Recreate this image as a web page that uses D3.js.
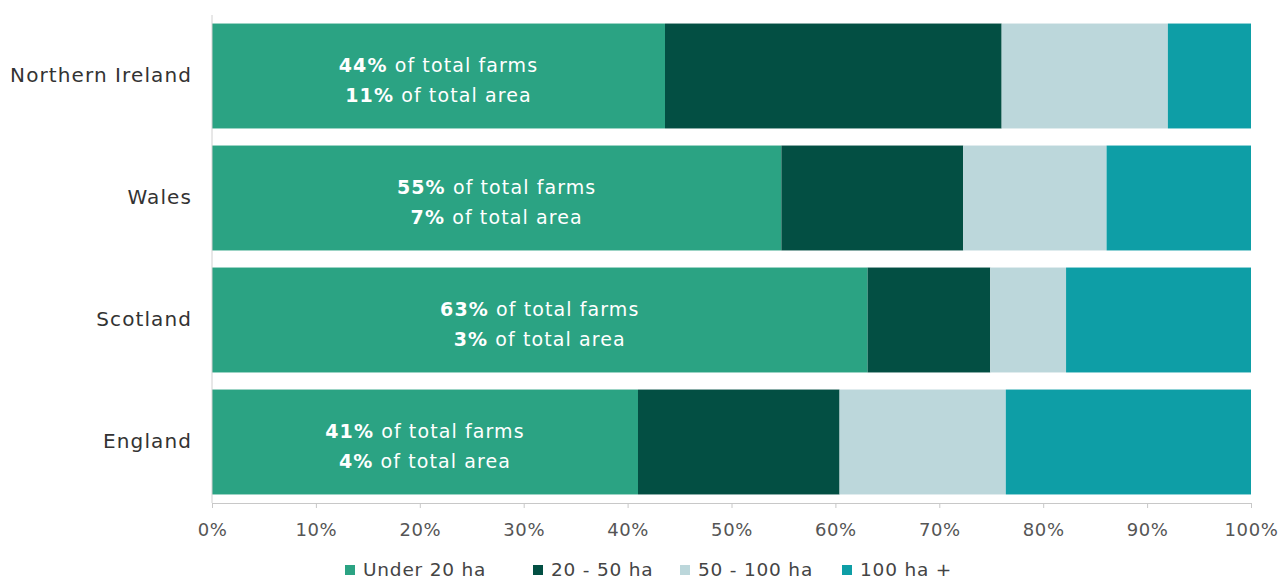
<!DOCTYPE html>
<html>
<head>
<meta charset="utf-8">
<script src="https://cdn.jsdelivr.net/npm/d3@7"></script>
<style>
  html, body { margin: 0; padding: 0; background: #ffffff; }
  svg { display: block; font-family: "DejaVu Sans", "Open Sans", sans-serif; }
</style>
</head>
<body>
<svg id="chart" width="1282" height="581"></svg>
<script>
// Share of holdings by farm size band, per nation (% of farms)
const categories = ["Northern Ireland", "Wales", "Scotland", "England"];
const seriesNames = ["Under 20 ha", "20 - 50 ha", "50 - 100 ha", "100 ha +"];
const under20 = [43.6, 54.8, 63.1, 41.0];
const from20to50 = [32.4, 17.5, 11.8, 19.4];
const from50to100 = [16.0, 13.8, 7.3, 16.0];
const over100 = [8.0, 13.9, 17.8, 23.6];
// Share of total farmed area held by the under-20 ha band
const under20AreaShare = [11, 7, 3, 4];
const tickValues = [0, 10, 20, 30, 40, 50, 60, 70, 80, 90, 100];

const colors = ["#2ba383", "#034f43", "#bcd7db", "#0e9ea6"];

const svg = d3.select("#chart");
const plotLeft = 212, plotRight = 1251, plotTop = 15, plotBottom = 503;

const x = d3.scaleLinear().domain([0, 100]).range([plotLeft, plotRight]);
const y = d3.scaleBand().domain(categories).range([plotTop, plotBottom])
  .paddingInner(0.14).paddingOuter(0.07);
const color = d3.scaleOrdinal().domain(seriesNames).range(colors);

const rows = categories.map((c, i) => ({
  category: c,
  "Under 20 ha": under20[i],
  "20 - 50 ha": from20to50[i],
  "50 - 100 ha": from50to100[i],
  "100 ha +": over100[i]
}));
const stacked = d3.stack().keys(seriesNames)(rows);

// Stacked bars
svg.append("g").selectAll("g")
  .data(stacked)
  .join("g")
  .attr("fill", d => color(d.key))
  .selectAll("rect")
  .data(d => d)
  .join("rect")
  .attr("x", d => x(d[0]))
  .attr("width", d => x(d[1]) - x(d[0]))
  .attr("y", d => y(d.data.category))
  .attr("height", y.bandwidth());

// Vertical category axis line
svg.append("line")
  .attr("x1", plotLeft).attr("x2", plotLeft)
  .attr("y1", plotTop).attr("y2", plotBottom)
  .attr("stroke", "#d0d0d0").attr("stroke-width", 1);

// Category labels
svg.append("g").selectAll("text")
  .data(categories)
  .join("text")
  .attr("x", 192)
  .attr("y", d => y(d) + y.bandwidth() / 2 + 6)
  .attr("text-anchor", "end")
  .attr("font-size", 20)
  .attr("letter-spacing", 1.1)
  .attr("fill", "#333333")
  .text(d => d);

// Percentage axis
const xAxis = svg.append("g")
  .attr("transform", `translate(0,${plotBottom})`)
  .call(d3.axisBottom(x).tickValues(tickValues).tickSize(5).tickPadding(15)
    .tickFormat(d => d + "%"));
xAxis.select(".domain").attr("stroke", "#c8c8c8");
xAxis.selectAll(".tick line").attr("stroke", "#c8c8c8");
xAxis.selectAll(".tick text")
  .attr("font-family", "\"DejaVu Sans\", sans-serif")
  .attr("font-size", 18)
  .attr("letter-spacing", 0.6)
  .attr("fill", "#555555");

// Annotations inside the smallest size band
const notes = svg.append("g").attr("fill", "#ffffff").attr("font-size", 19)
  .attr("letter-spacing", 1.1)
  .attr("text-anchor", "middle");
categories.forEach((c, i) => {
  const cx = (x(0) + x(under20[i])) / 2;
  const cy = y(c) + y.bandwidth() / 2;
  const t1 = notes.append("text").attr("x", cx).attr("y", cy - 4);
  t1.append("tspan").attr("font-weight", "bold").text(Math.round(under20[i]) + "%");
  t1.append("tspan").text(" of total farms");
  const t2 = notes.append("text").attr("x", cx).attr("y", cy + 26);
  t2.append("tspan").attr("font-weight", "bold").text(under20AreaShare[i] + "%");
  t2.append("tspan").text(" of total area");
});

// Legend
const legendX = [345, 533, 680, 842];
const legend = svg.append("g").selectAll("g")
  .data(seriesNames)
  .join("g")
  .attr("transform", (d, i) => `translate(${legendX[i]},570)`);
legend.append("rect")
  .attr("x", 0).attr("y", -5)
  .attr("width", 10).attr("height", 10)
  .attr("fill", d => color(d));
legend.append("text")
  .attr("x", 18).attr("y", 6)
  .attr("font-size", 18.5)
  .attr("letter-spacing", 0.8)
  .attr("fill", "#444444")
  .text(d => d);
</script>
</body>
</html>
